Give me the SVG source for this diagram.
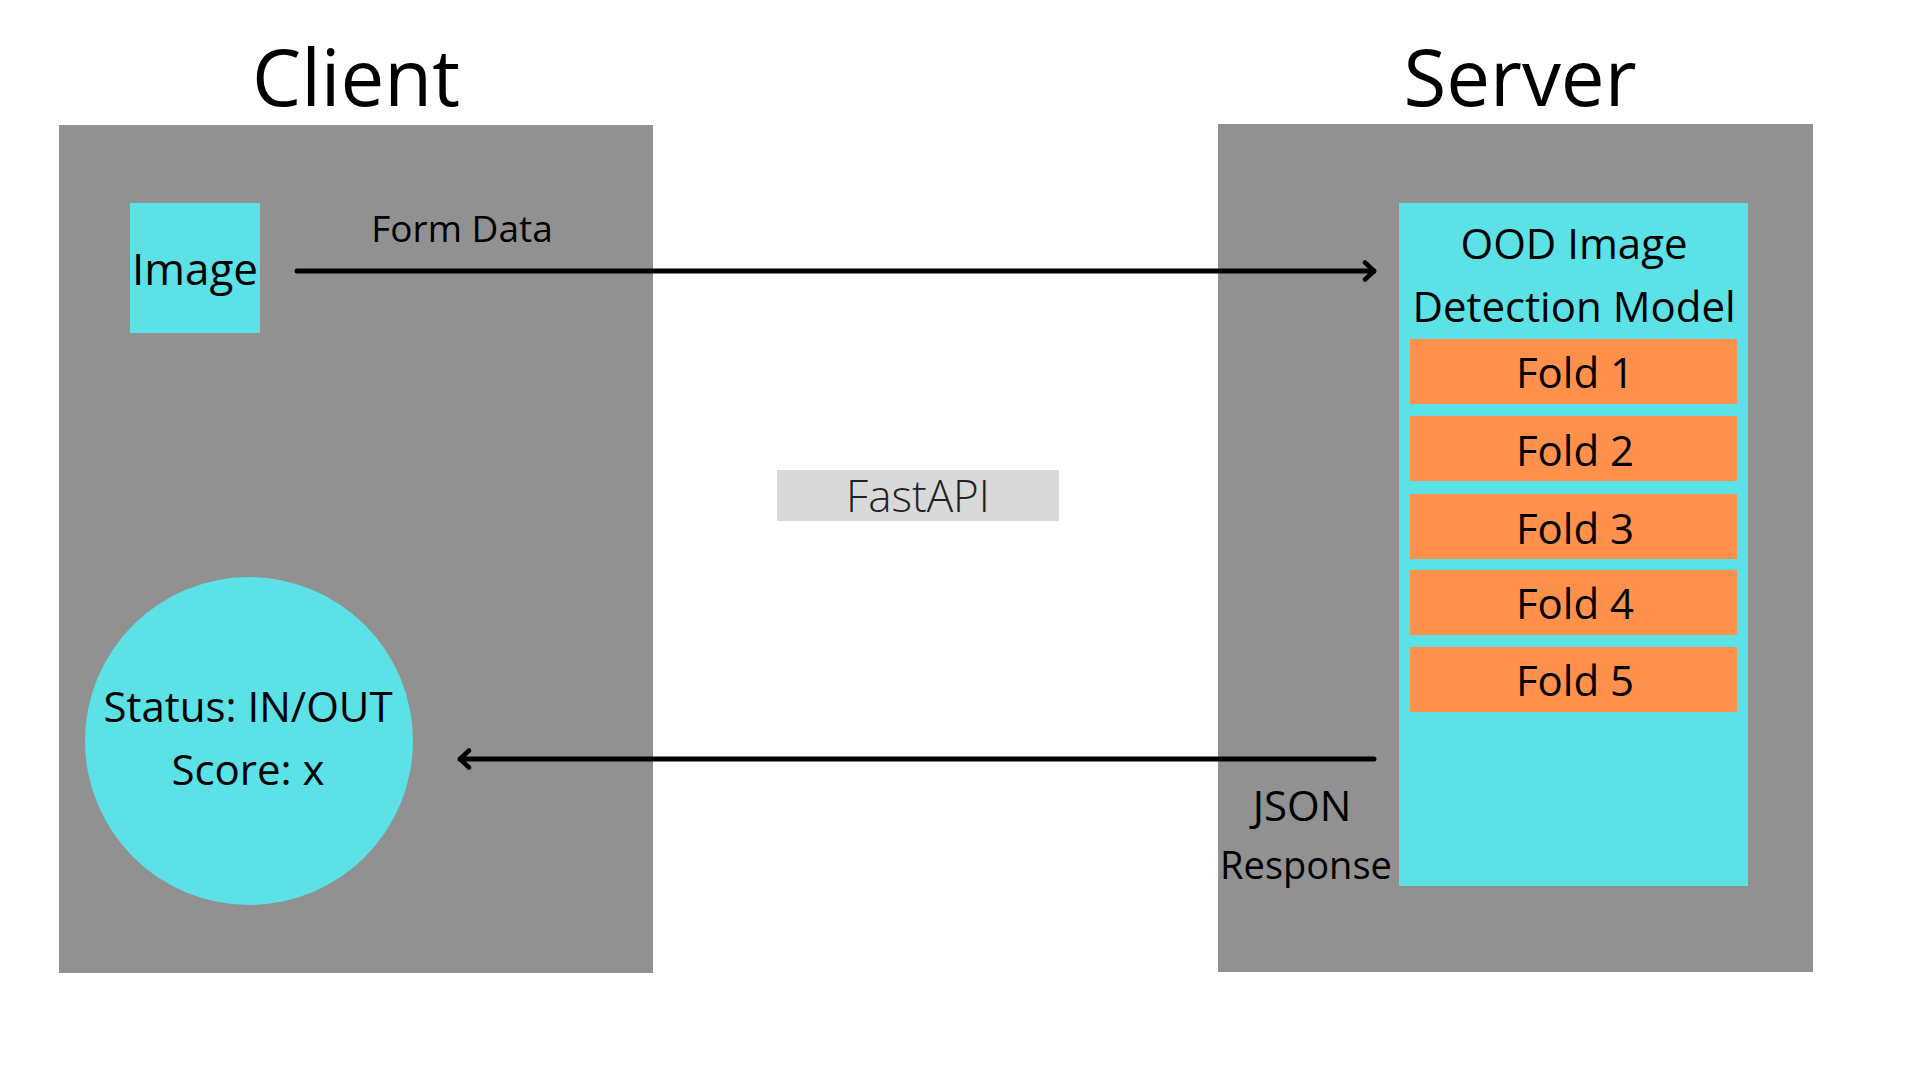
<svg xmlns="http://www.w3.org/2000/svg" width="1920" height="1080" viewBox="0 0 1920 1080">
  <style>
    text { font-family: "Open Sans", "Noto Sans", "Liberation Sans", sans-serif; fill: #000; text-anchor: middle; }
    .panel { fill: #919191; }
    .cyan { fill: #5CE1E6; }
    .fold { fill: #FF914D; }
    .title { font-size: 78px; }
    .lbl { font-size: 42px; }
    .conn { stroke: #000; stroke-width: 5; stroke-linecap: round; fill: none; }
  </style>
  <defs>
    <marker id="chev" viewBox="0 0 14 22" refX="12" refY="11" markerWidth="14" markerHeight="22" markerUnits="userSpaceOnUse" orient="auto">
      <path d="M3 2.5 L12 11 L3 19.5" fill="none" stroke="#000" stroke-width="4.5" stroke-linecap="round" stroke-linejoin="round"/>
    </marker>
  </defs>
  <rect width="1920" height="1080" fill="#FFFFFF"/>

  <g id="client">
    <rect class="panel" x="59" y="125" width="594" height="848"/>
    <text class="title" x="356" y="106">Client</text>
  </g>
  <g id="server">
    <rect class="panel" x="1218" y="124" width="595" height="848"/>
    <text class="title" x="1520" y="106">Server</text>
  </g>

  <g id="image">
    <rect class="cyan" x="130" y="203" width="130" height="130"/>
    <text x="195" y="285" style="font-size:44px">Image</text>
  </g>

  <g id="result">
    <circle class="cyan" cx="249" cy="741" r="164"/>
    <text class="lbl" x="248" y="722">Status: IN/OUT</text>
    <text class="lbl" x="248" y="785">Score: x</text>
  </g>

  <g id="fastapi">
    <rect x="777" y="470" width="282" height="51" fill="#D9D9D9"/>
    <text x="918" y="512" style="font-size:44px;font-weight:300;fill:#222">FastAPI</text>
  </g>

  <g id="model">
    <rect class="cyan" x="1399" y="203" width="349" height="683"/>
    <text class="lbl" x="1574" y="259">OOD Image</text>
    <text class="lbl" x="1574" y="322">Detection Model</text>
  </g>
  <g id="fold1">
    <rect class="fold" x="1410" y="339" width="327" height="65"/>
    <text class="lbl" x="1575" y="388">Fold 1</text>
  </g>
  <g id="fold2">
    <rect class="fold" x="1410" y="416" width="327" height="65"/>
    <text class="lbl" x="1575" y="466">Fold 2</text>
  </g>
  <g id="fold3">
    <rect class="fold" x="1410" y="494" width="327" height="65"/>
    <text class="lbl" x="1575" y="544">Fold 3</text>
  </g>
  <g id="fold4">
    <rect class="fold" x="1410" y="570" width="327" height="65"/>
    <text class="lbl" x="1575" y="619">Fold 4</text>
  </g>
  <g id="fold5">
    <rect class="fold" x="1410" y="647" width="327" height="65"/>
    <text class="lbl" x="1575" y="696">Fold 5</text>
  </g>

  <g id="connectors">
    <line class="conn" x1="297" y1="271" x2="1374" y2="271" marker-end="url(#chev)"/>
    <text x="462" y="242" style="font-size:37px">Form Data</text>
    <line class="conn" x1="1374" y1="759" x2="460" y2="759" marker-end="url(#chev)"/>
    <text class="lbl" x="1302" y="821">JSON</text>
    <text x="1306" y="879" style="font-size:38px">Response</text>
  </g>
</svg>
